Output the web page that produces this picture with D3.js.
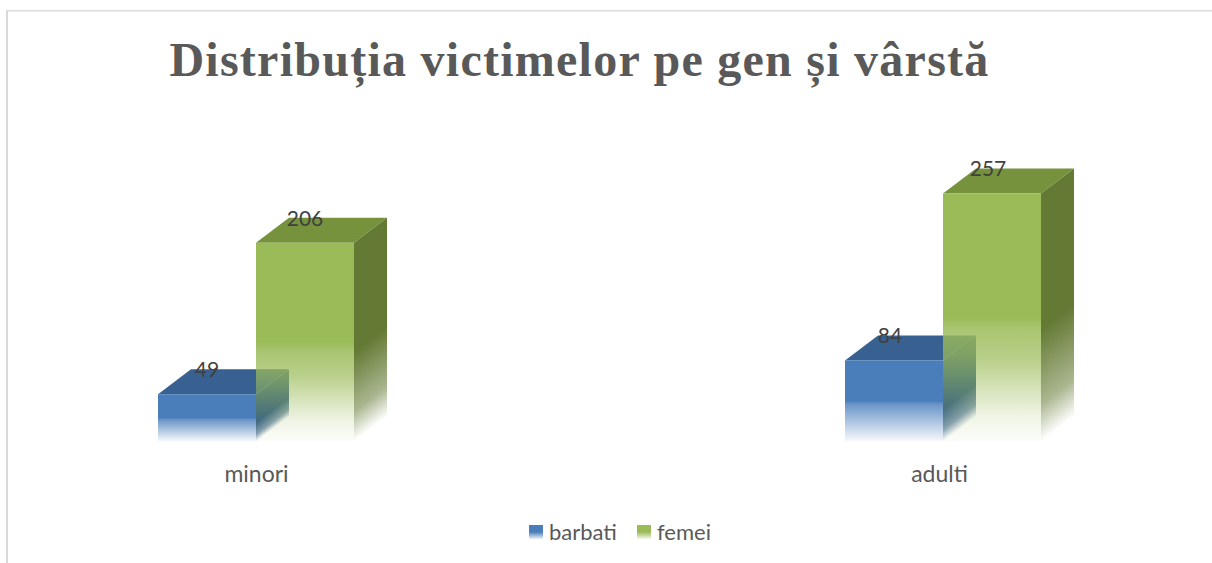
<!DOCTYPE html>
<html>
<head>
<meta charset="utf-8">
<script src="https://cdn.jsdelivr.net/npm/d3@7"></script>
<style>
  html, body { margin: 0; padding: 0; background: #fff; overflow: hidden; }
  svg { display: block; }
</style>
</head>
<body>
<div class="chart"></div>
<script>
// chart values
var categories = ["minori", "adulti"];
var seriesNames = ["barbati", "femei"];
var barbati = [49, 84];
var femei = [206, 257];
var chartTitle = "Distribuția victimelor pe gen și vârstă";

var width = 1212, height = 563;
var baseY = 441.5;     // floor of the front faces
var depthX = 33, depthY = 25;  // 3d offset of the back of the bars
var barW = 98;

var colors = {
  barbati: { front: "#4a7ebb", top: "#386191", side: "#2f5a86" },
  femei: { front: "#9bbb59", top: "#76923c", side: "#647a34" }
};

// labels of the second group sit a little left of the bars in the original
var labelShift = { minori: 0, adulti: -4 };

var rows = [];
seriesNames.forEach(function (s) {
  var vals = s == "barbati" ? barbati : femei;
  categories.forEach(function (c, i) {
    rows.push({ series: s, category: c, value: vals[i] });
  });
});

var xScale = d3.scalePoint().domain(categories).range([256, 943]);
var xInner = d3.scaleBand().domain(seriesNames).range([-barW, barW]);
// 257 -> 248px tall on the picture
var yScale = d3.scaleLinear().domain([0, 300]).range([baseY, baseY - 289.5]);

var svg = d3.select(".chart").append("svg")
  .attr("width", width)
  .attr("height", height);

// frame of the chart area, only the top and left show
svg.append("path")
  .attr("d", "M7,563V10")
  .attr("fill", "none")
  .attr("stroke", "#d9d9d9")
  .attr("stroke-width", 2);
svg.append("path")
  .attr("d", "M6,10.75H1212")
  .attr("fill", "none")
  .attr("stroke", "#dcdcdc")
  .attr("stroke-width", 1.5);

var defs = svg.append("defs");

// fade to nearly nothing on the lower half, like the office reflection effect
function fade(id, color, stops) {
  var g = defs.append("linearGradient")
    .attr("id", id)
    .attr("x1", 0).attr("y1", 0).attr("x2", 0).attr("y2", 1);
  stops.forEach(function (st) {
    g.append("stop")
      .attr("offset", st[0])
      .attr("stop-color", color)
      .attr("stop-opacity", st[1]);
  });
}

fade("front-barbati", colors.barbati.front, [[0, 1], [0.5, 1], [0.54, 0.82], [1, 0.04]]);
fade("front-femei", colors.femei.front, [[0, 1], [0.5, 1], [0.55, 0.85], [0.66, 0.72], [0.9, 0.15], [1, 0.03]]);
fade("side-barbati", colors.barbati.side, [[0, 1], [0.6, 1], [0.85, 0.6], [1, 0]]);
fade("side-femei", colors.femei.side, [[0, 1], [0.55, 1], [0.85, 0.55], [1, 0]]);
seriesNames.forEach(function (s) {
  fade("legend-" + s, colors[s].front, [[0, 1], [0.5, 1], [1, 0.1]]);
});

// blue goes first, the fading green front lies over it and lets it show through
var bars = svg.selectAll(".bar")
  .data(rows)
  .enter().append("g")
  .attr("class", "bar");

function barX(d) { return xScale(d.category) + xInner(d.series); }

// top face, skewed rect
bars.append("rect")
  .attr("x", 0).attr("y", -depthY)
  .attr("width", barW).attr("height", depthY)
  .attr("transform", function (d) {
    return "matrix(1,0," + (-depthX / depthY) + ",1," + barX(d) + "," + yScale(d.value) + ")";
  })
  .attr("fill", function (d) { return colors[d.series].top; });

// side face, skewed rect so the fade follows the slanted floor
bars.append("rect")
  .attr("x", 0).attr("y", 0)
  .attr("width", depthX)
  .attr("height", function (d) { return baseY - yScale(d.value); })
  .attr("transform", function (d) {
    return "matrix(1," + (-depthY / depthX) + ",0,1," + (barX(d) + barW) + "," + yScale(d.value) + ")";
  })
  .attr("fill", function (d) { return "url(#side-" + d.series + ")"; });

// front face
bars.append("rect")
  .attr("x", barX)
  .attr("y", function (d) { return yScale(d.value); })
  .attr("width", barW)
  .attr("height", function (d) { return baseY - yScale(d.value); })
  .attr("fill", function (d) { return "url(#front-" + d.series + ")"; });

// value labels, office left them sitting on the top face
svg.selectAll(".value")
  .data(rows)
  .enter().append("text")
  .attr("class", "value")
  .attr("x", function (d) { return barX(d) + barW / 2 + labelShift[d.category]; })
  .attr("y", function (d) { return yScale(d.value) - 17; })
  .attr("text-anchor", "middle")
  .style("font-family", "Lato, sans-serif")
  .style("font-size", "21px")
  .style("fill", "#404040")
  .text(function (d) { return d.value; });

// category labels
var xAxis = d3.axisBottom(xScale).tickSize(0).tickPadding(0);
var axisG = svg.append("g")
  .attr("transform", "translate(0,466)")
  .call(xAxis);
axisG.select(".domain").remove();
axisG.selectAll("text")
  .attr("dy", "0.71em")
  .attr("dx", function (d) { return labelShift[d]; })
  .style("font-family", "Lato, sans-serif")
  .style("font-size", "23px")
  .style("fill", "#595959");

// title
svg.append("text")
  .attr("x", 579.5)
  .attr("y", 76)
  .attr("text-anchor", "middle")
  .style("font-family", "'Liberation Serif', serif")
  .style("font-weight", "bold")
  .style("font-size", "48px")
  .style("letter-spacing", "1.26px")
  .style("fill", "#595959")
  .text(chartTitle);

// legend
var legendX = { barbati: 529, femei: 637 };
var legend = svg.selectAll(".legend")
  .data(seriesNames)
  .enter().append("g")
  .attr("class", "legend")
  .attr("transform", function (d) { return "translate(" + legendX[d] + ",525)"; });

legend.append("rect")
  .attr("width", 14).attr("height", 14)
  .attr("fill", function (d) { return "url(#legend-" + d + ")"; });

legend.append("text")
  .attr("x", 20)
  .attr("y", 15)
  .style("font-family", "Lato, sans-serif")
  .style("font-size", "22px")
  .style("fill", "#595959")
  .text(function (d) { return d; });
</script>
</body>
</html>
